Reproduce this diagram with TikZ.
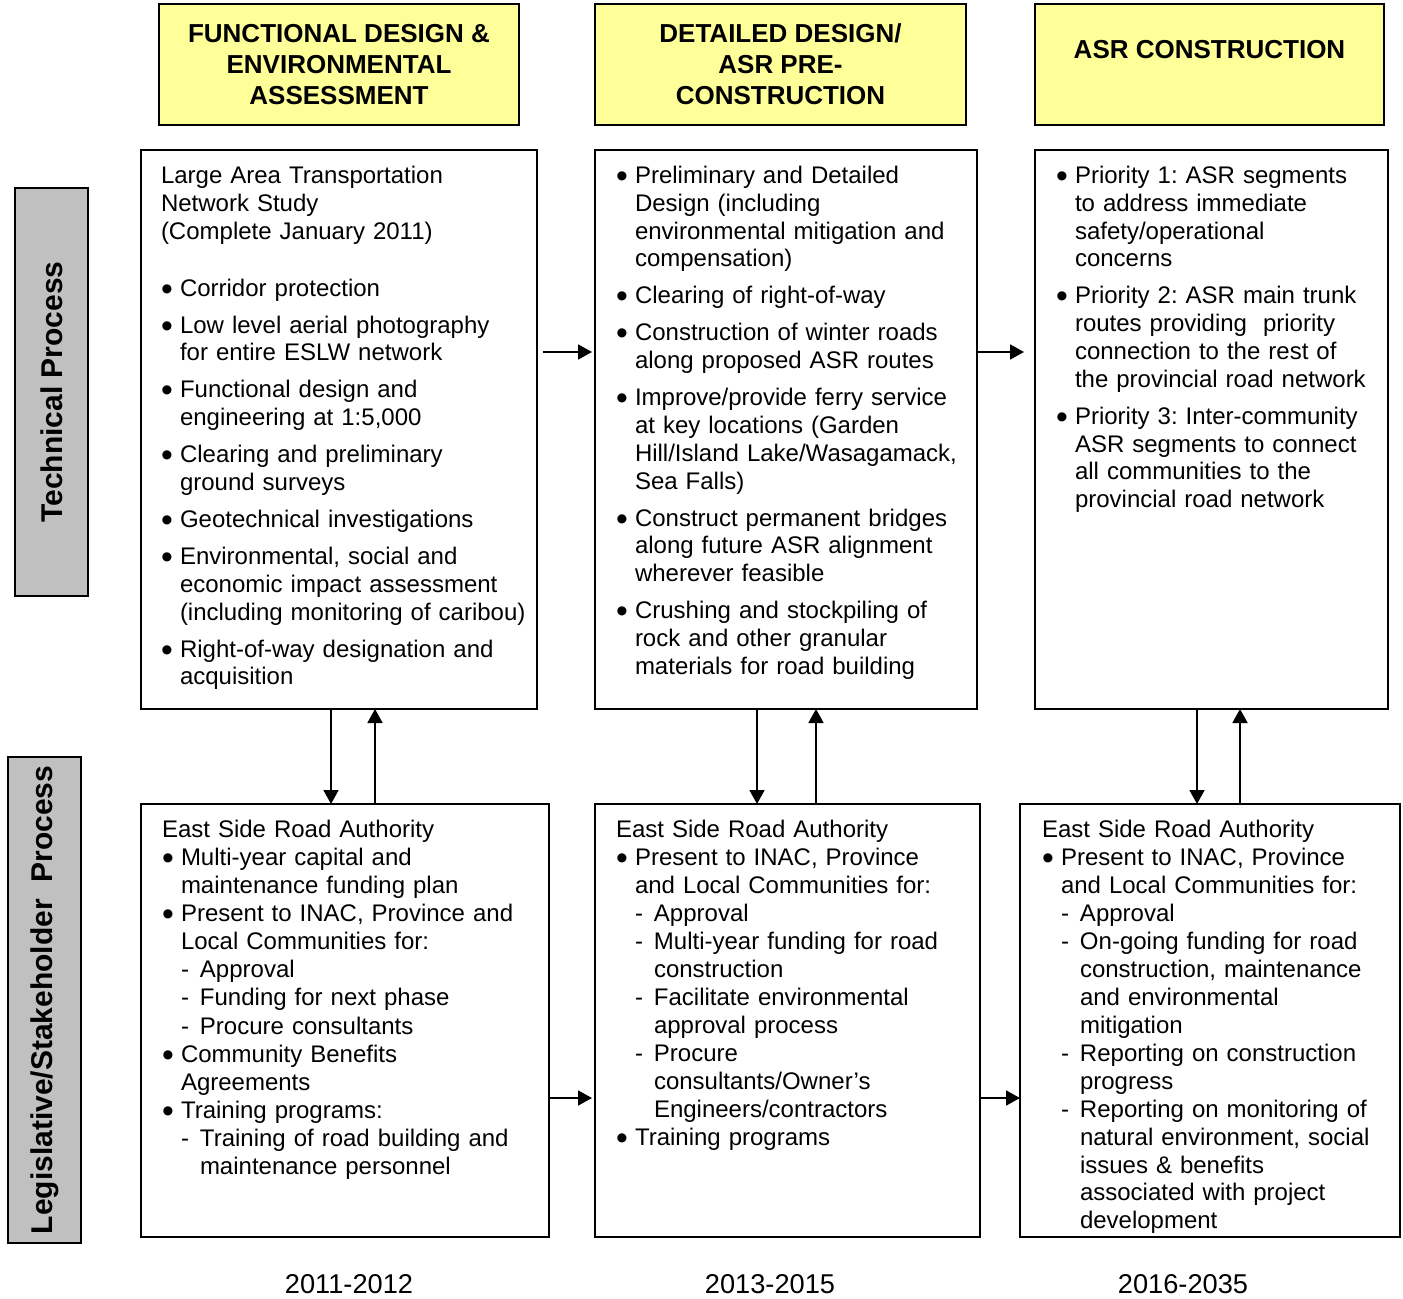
\documentclass[tikz,border=0pt]{standalone}
\usepackage{fontspec}
\setmainfont{Liberation Sans}
\usetikzlibrary{arrows.meta}
\usetikzlibrary{positioning}

\definecolor{headyellow}{HTML}{FFFF99}
\definecolor{sidegray}{HTML}{C0C0C0}

\newcommand{\bodyfont}{\fontsize{12}{13.9}\selectfont\frenchspacing}
\newcommand{\topbody}{\bodyfont\setlength{\parskip}{4.6pt}}
\newcommand{\botbody}{\bodyfont\setlength{\parskip}{0.2pt}}
% bullet and dash lines with hanging indent
\newcommand{\bigbul}{\raisebox{-2pt}{\scalebox{1.4}{\textbullet}}}
\newcommand{\bul}[1]{\noindent\hangindent=9.5pt \hangafter=1 \strut\makebox[9.5pt][l]{\bigbul}#1\par}
\newcommand{\dsh}[1]{\noindent\hangindent=19pt \hangafter=1 \strut\hspace*{9.5pt}\makebox[9.5pt][l]{-}#1\par}

\begin{document}
\begin{tikzpicture}[x=0.5pt, y=-0.5pt,
    head/.style={draw, line width=0.8pt, fill=headyellow, align=center,
      font=\bfseries\fontsize{13}{15.5}\selectfont},
    cbox/.style={draw, line width=1pt, inner sep=0pt, outer sep=0pt},
    side/.style={draw, line width=1pt, fill=sidegray, rotate=90,
      font=\bfseries\fontsize{15}{17}\selectfont},
    body/.style={inner sep=0pt, outer sep=0pt, text width=250pt},
    year/.style={font=\fontsize{13.6}{16}\selectfont},
    arr/.style={-{Triangle[length=7pt,width=7.5pt]}, line width=0.9pt}]
  \useasboundingbox (0,0) rectangle (1403,1299);

  % top row
  \node (c1) [cbox, minimum width=198pt, minimum height=279.5pt] at (339,429.5) {};
  \node (c2) [cbox, minimum width=191pt, minimum height=279.5pt, right=29pt of c1] {};
  \node (c3) [cbox, minimum width=176.5pt, minimum height=279.5pt, right=29pt of c2] {};

  % headers
  \node (h1) [head, minimum width=180pt, minimum height=60.5pt, above=12pt of c1]
    {FUNCTIONAL DESIGN \&\\ENVIRONMENTAL\\ASSESSMENT};
  \node (h2) [head, minimum width=185.5pt, minimum height=60.5pt, above=12pt of c2, xshift=-2.75pt]
    {DETAILED DESIGN/\\ASR PRE-\\CONSTRUCTION};
  \node (h3) [head, minimum width=174.5pt, minimum height=60.5pt, above=12pt of c3, xshift=-1pt]
    {ASR CONSTRUCTION\\~};

  % bottom row
  \node (c4) [cbox, minimum width=204pt, minimum height=216.5pt,
    below=47.5pt of c1.south west, anchor=north west] {};
  \node (c5) [cbox, minimum width=192.5pt, minimum height=216.5pt,
    below=47.5pt of c2.south west, anchor=north west] {};
  \node (c6) [cbox, minimum width=190pt, minimum height=216.5pt,
    below=47.5pt of c3.south west, anchor=north west, xshift=-7.5pt] {};

  % side labels
  \node (lTech) [side, minimum width=204pt, minimum height=36.5pt] at (51.5,392) {Technical Process};
  \node (lLeg) [side, minimum width=243pt, minimum height=36.5pt] at (44.5,1000)
    {Legislative/Stakeholder~ Process};

  % texts
  \node (i1) [body, font=\topbody, below right=7pt and 10pt of c1.north west] {%
    \noindent\strut Large Area Transportation\newline Network Study\newline (Complete January 2011)\par
    \vspace{10pt}%
    \bul{Corridor protection}
    \bul{Low level aerial photography\newline for entire ESLW network}
    \bul{Functional design and\newline engineering at 1:5,000}
    \bul{Clearing and preliminary\newline ground surveys}
    \bul{Geotechnical investigations}
    \bul{Environmental, social and\newline economic impact assessment\newline (including monitoring of caribou)}
    \bul{Right-of-way designation and\newline acquisition}};
  \node (i2) [body, font=\topbody, below right=7pt and 10.5pt of c2.north west] {%
    \bul{Preliminary and Detailed\newline Design (including\newline environmental mitigation and\newline compensation)}
    \bul{Clearing of right-of-way}
    \bul{Construction of winter roads\newline along proposed ASR routes}
    \bul{Improve/provide ferry service\newline at key locations (Garden\newline Hill/Island Lake/Wasagamack,\newline Sea Falls)}
    \bul{Construct permanent bridges\newline along future ASR alignment\newline wherever feasible}
    \bul{Crushing and stockpiling of\newline rock and other granular\newline materials for road building}};
  \node (i3) [body, font=\topbody, below right=7pt and 10.5pt of c3.north west] {%
    \bul{Priority 1: ASR segments\newline to address immediate\newline safety/operational\newline concerns}
    \bul{Priority 2: ASR main trunk\newline routes providing~ priority\newline connection to the rest of\newline the provincial road network}
    \bul{Priority 3: Inter-community\newline ASR segments to connect\newline all communities to the\newline provincial road network}};
  \node (i4) [body, font=\botbody, below right=7pt and 10.5pt of c4.north west] {%
    \noindent\strut East Side Road Authority\par
    \bul{Multi-year capital and\newline maintenance funding plan}
    \bul{Present to INAC, Province and\newline Local Communities for:}
    \dsh{Approval}
    \dsh{Funding for next phase}
    \dsh{Procure consultants}
    \bul{Community Benefits\newline Agreements}
    \bul{Training programs:}
    \dsh{Training of road building and\newline maintenance personnel}};
  \node (i5) [body, font=\botbody, below right=7pt and 10.5pt of c5.north west] {%
    \noindent\strut East Side Road Authority\par
    \bul{Present to INAC, Province\newline and Local Communities for:}
    \dsh{Approval}
    \dsh{Multi-year funding for road\newline construction}
    \dsh{Facilitate environmental\newline approval process}
    \dsh{Procure\newline consultants/Owner’s\newline Engineers/contractors}
    \bul{Training programs}};
  \node (i6) [body, font=\botbody, below right=7pt and 11pt of c6.north west] {%
    \noindent\strut East Side Road Authority\par
    \bul{Present to INAC, Province\newline and Local Communities for:}
    \dsh{Approval}
    \dsh{On-going funding for road\newline construction, maintenance\newline and environmental\newline mitigation}
    \dsh{Reporting on construction\newline progress}
    \dsh{Reporting on monitoring of\newline natural environment, social\newline issues \& benefits\newline associated with project\newline development}};

  % years
  \node (y1) [year] at (349,1284) {2011-2012};
  \node (y2) [year] at (770,1284) {2013-2015};
  \node (y3) [year] at (1183,1284) {2016-2035};

  % arrows between phases
  \draw [arr, shorten <=3pt, shorten >=1.5pt] ([yshift=38.75pt]c1.east) -- ([yshift=38.75pt]c1.east -| c2.west);
  \draw [arr, shorten >=5.5pt] ([yshift=38.75pt]c2.east) -- ([yshift=38.75pt]c2.east -| c3.west);
  \draw [arr, shorten >=1.5pt] ([yshift=-38.75pt]c4.east) -- ([yshift=-38.75pt]c4.east -| c5.west);
  \draw [arr] ([yshift=-38.75pt]c5.east) -- ([yshift=-38.75pt]c5.east -| c6.west);

  % arrows between processes
  \draw [arr] ([xshift=-4pt]c1.south) -- ([xshift=-4pt]c1.south |- c4.north);
  \draw [arr] ([xshift=18pt]c1.south |- c4.north) -- ([xshift=18pt]c1.south);
  \draw [arr] ([xshift=-14.5pt]c2.south) -- ([xshift=-14.5pt]c2.south |- c5.north);
  \draw [arr] ([xshift=15pt]c2.south |- c5.north) -- ([xshift=15pt]c2.south);
  \draw [arr] ([xshift=-7.25pt]c3.south) -- ([xshift=-7.25pt]c3.south |- c6.north);
  \draw [arr] ([xshift=14.25pt]c3.south |- c6.north) -- ([xshift=14.25pt]c3.south);
\end{tikzpicture}
\end{document}
